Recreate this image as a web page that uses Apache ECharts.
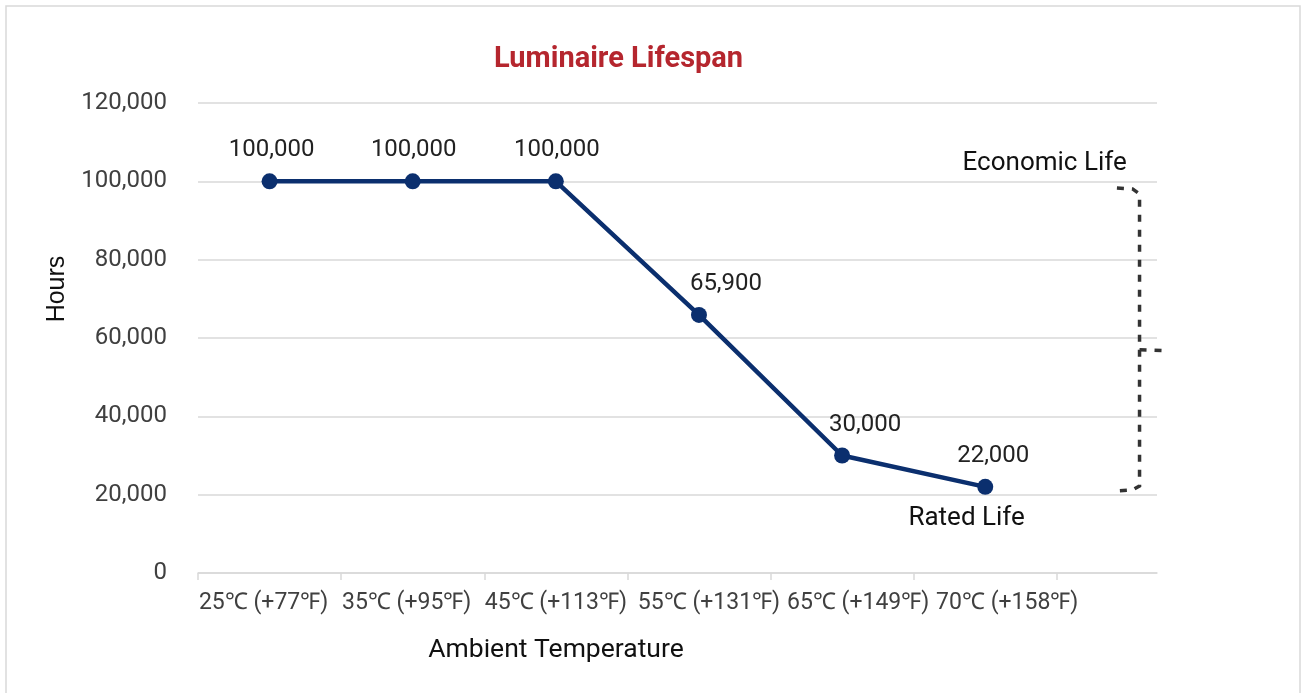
<!DOCTYPE html>
<html><head><meta charset="utf-8">
<script src="https://cdn.jsdelivr.net/npm/echarts@6/dist/echarts.min.js"></script>
<style>html,body{margin:0;padding:0;background:#fff}#c{width:1301px;height:693px}</style>
</head><body><div id="c"></div>
<script>
const categories = ['25℃ (+77℉)', '35℃ (+95℉)', '45℃ (+113℉)', '55℃ (+131℉)', '65℃ (+149℉)', '70℃ (+158℉)'];
const hours = [100000, 100000, 100000, 65900, 30000, 22000];
const yMin = 0, yMax = 120000, yStep = 20000;
const chartTitle = 'Luminaire Lifespan';
const xName = 'Ambient Temperature';
const yName = 'Hours';
const topNote = 'Economic Life';
const bottomNote = 'Rated Life';

// styling only: horizontal nudges (px) of data labels and category labels
const labelNudge = [2, 1, 1, 27, 23, 8];
const catNudge = [-6, -6, 0, 10, 16, 22];

const FONT = 'Roboto';
const chart = echarts.init(document.getElementById('c'), null, {renderer: 'canvas'});
const xMax = 6.7;
const tickVals = categories.map((_, i) => i).concat([categories.length]);
const labelVals = categories.map((_, i) => i + 0.5);
const seriesData = hours.map((v, i) => ({value: [i + 0.5, v], label: {offset: [labelNudge[i], 0]}}));
const catRich = {};
catNudge.forEach((n, i) => {
  catRich['c' + i] = {fontFamily: FONT, fontSize: 23, color: '#404040',
    padding: n >= 0 ? [0, 0, 0, 2 * n] : [0, -2 * n, 0, 0]};
});

chart.setOption({
  backgroundColor: '#fff',
  animation: false,
  title: {text: chartTitle, left: 489, top: 40,
    textStyle: {fontFamily: FONT, fontSize: 29, fontWeight: 'bold', color: '#b5262e'}},
  grid: {left: 198, right: 144, top: 103, bottom: 120, containLabel: false},
  xAxis: {
    type: 'value', min: 0, max: xMax, interval: 1,
    axisLine: {show: true, lineStyle: {color: '#d9d9d9', width: 1.5}},
    axisTick: {show: true, customValues: tickVals, length: 7, lineStyle: {color: '#d9d9d9', width: 1.5}},
    axisLabel: {customValues: labelVals, formatter: v => { const i = Math.floor(v); return '{c' + i + '|' + categories[i] + '}'; },
      rich: catRich, fontFamily: FONT, fontSize: 23, color: '#404040', margin: 19, hideOverlap: false},
    splitLine: {show: false}
  },
  yAxis: {
    type: 'value', min: yMin, max: yMax, interval: yStep,
    axisLine: {show: false}, axisTick: {show: false},
    axisLabel: {formatter: v => v.toLocaleString('en-US'), fontFamily: FONT, fontSize: 24, color: '#404040', margin: 31},
    splitLine: {lineStyle: {color: '#d9d9d9', width: 1.5}}
  },
  series: [{
    type: 'line', data: seriesData,
    symbol: 'circle', symbolSize: 16,
    lineStyle: {color: '#0b2f6e', width: 4.5},
    itemStyle: {color: '#0b2f6e'},
    label: {show: true, position: 'top', distance: 11, formatter: p => p.value[1].toLocaleString('en-US'),
      fontFamily: FONT, fontSize: 24, color: '#222'}
  }]
});

function px(x, y) { return chart.convertToPixel({gridIndex: 0}, [x, y]); }
const bx = 6.578;
const bTop = px(bx, 97800), bBot = px(bx, 21200), midY = px(bx, 57000)[1];
const leftX = px(6.42, 0)[0];
const brace = [[leftX, bTop[1] - 2], [bTop[0] - 7, bTop[1] - 1], [bTop[0], bTop[1] + 4],
  [bBot[0], bBot[1] - 4], [bBot[0] - 7, bBot[1]], [leftX, bBot[1] + 1]];
const econ = px(5.915, 0)[0], econY = px(0, 104500)[1];
const rated = px(5.37, 0)[0], ratedY = px(0, 14000)[1];

chart.setOption({
  graphic: [
    {type: 'rect', shape: {x: 6, y: 6, width: 1294, height: 720}, style: {fill: 'none', stroke: '#d9d9d9', lineWidth: 1.5}, silent: true},
    {type: 'polyline', shape: {points: brace}, style: {fill: 'none', stroke: '#333', lineWidth: 3.5, lineDash: [7, 8]}},
    {type: 'polyline', shape: {points: [[bTop[0], midY], [bTop[0] + 26, midY + 1]]}, style: {fill: 'none', stroke: '#333', lineWidth: 3.5, lineDash: [7, 8]}},
    {type: 'text', x: econ, y: econY, style: {text: topNote, fontFamily: FONT, fontSize: 26, fill: '#111', align: 'center', verticalAlign: 'middle'}},
    {type: 'text', x: rated, y: ratedY, style: {text: bottomNote, fontFamily: FONT, fontSize: 26, fill: '#111', align: 'center', verticalAlign: 'middle'}},
    {type: 'text', x: 556, y: 650, style: {text: xName, fontFamily: FONT, fontSize: 26.5, fill: '#111', align: 'center', verticalAlign: 'middle'}},
    {type: 'text', x: 57, y: 289, rotation: Math.PI / 2, style: {text: yName, fontFamily: 'Liberation Sans', fontSize: 25, fill: '#111', align: 'center', verticalAlign: 'middle'}}
  ]
});
</script></body></html>
